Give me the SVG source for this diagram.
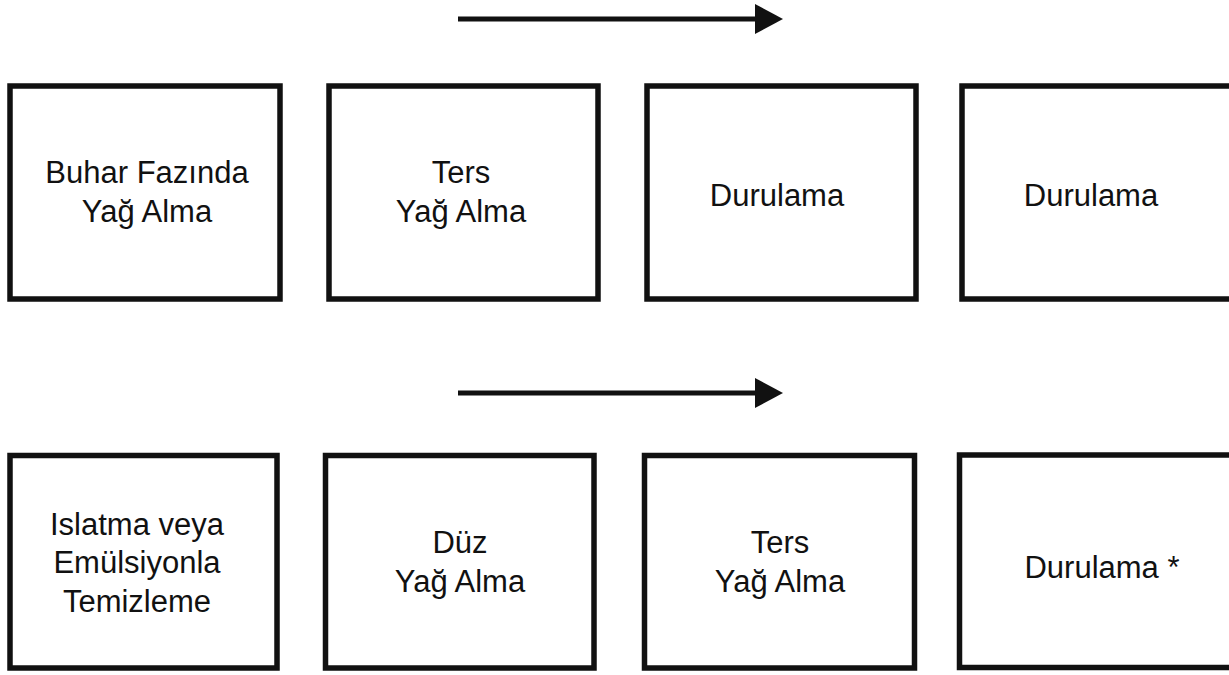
<svg xmlns="http://www.w3.org/2000/svg" width="1229" height="675" viewBox="0 0 1229 675">
  <defs>
    <style>
      .box { fill: #ffffff; stroke: #111111; stroke-width: 5.5; }
      .lbl { font-family: "Liberation Sans", Arial, sans-serif; font-size: 31px; fill: #111111; text-anchor: middle; }
      .conn { stroke: #111111; stroke-width: 5; fill: none; }
    </style>
    <marker id="head" markerUnits="userSpaceOnUse" markerWidth="30" markerHeight="32" refX="2" refY="15" orient="auto">
      <path d="M0,0 L28,15 L0,30 z" fill="#111111"/>
    </marker>
  </defs>
  <rect width="1229" height="675" fill="#ffffff"/>

  <g id="connectors">
    <line class="conn" x1="458" y1="19" x2="757" y2="19" marker-end="url(#head)"/>
    <line class="conn" x1="458" y1="393" x2="757" y2="393" marker-end="url(#head)"/>
  </g>

  <g id="n1">
    <rect class="box" x="10" y="86" width="270" height="213"/>
    <text class="lbl" x="147" y="183">Buhar Fazında</text>
    <text class="lbl" x="147" y="222">Yağ Alma</text>
  </g>
  <g id="n2">
    <rect class="box" x="329" y="86" width="269" height="213"/>
    <text class="lbl" x="461" y="183">Ters</text>
    <text class="lbl" x="461" y="222">Yağ Alma</text>
  </g>
  <g id="n3">
    <rect class="box" x="647" y="86" width="269" height="213"/>
    <text class="lbl" x="777" y="206">Durulama</text>
  </g>
  <g id="n4">
    <rect class="box" x="962" y="86" width="300" height="213"/>
    <text class="lbl" x="1091" y="206">Durulama</text>
  </g>

  <g id="n5">
    <rect class="box" x="10" y="455.5" width="267" height="212.5"/>
    <text class="lbl" x="137" y="535">Islatma veya</text>
    <text class="lbl" x="137" y="573">Emülsiyonla</text>
    <text class="lbl" x="137" y="612">Temizleme</text>
  </g>
  <g id="n6">
    <rect class="box" x="325.5" y="455.5" width="268.5" height="212.5"/>
    <text class="lbl" x="460" y="553">Düz</text>
    <text class="lbl" x="460" y="592">Yağ Alma</text>
  </g>
  <g id="n7">
    <rect class="box" x="644.5" y="455.5" width="270" height="212.5"/>
    <text class="lbl" x="780" y="553">Ters</text>
    <text class="lbl" x="780" y="592">Yağ Alma</text>
  </g>
  <g id="n8">
    <rect class="box" x="959.5" y="455" width="300" height="212.5"/>
    <text class="lbl" x="1102" y="578">Durulama *</text>
  </g>
</svg>
